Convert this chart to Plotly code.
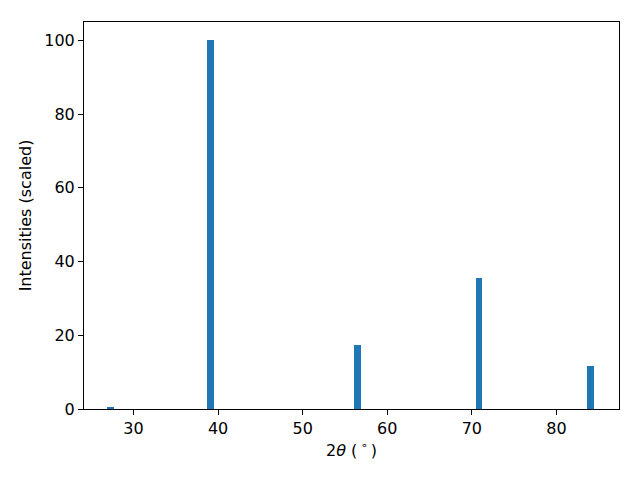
import plotly.graph_objects as go

two_theta = [27.3, 39.07, 56.5, 70.86, 84.04]
intensities = [0.3, 100.0, 17.3, 35.5, 11.65]
bar_width = 0.8
x_ticks = [30, 40, 50, 60, 70, 80]
y_ticks = [0, 20, 40, 60, 80, 100]

fig = go.Figure()
fig.add_trace(go.Bar(
    x=two_theta, y=intensities, width=bar_width,
    marker=dict(color="#1f77b4", line=dict(width=0)),
))

font = dict(family="DejaVu Sans", size=16, color="black")
axis_common = dict(
    showline=True, linecolor="black", linewidth=1, mirror=True,
    ticks="outside", ticklen=5, tickwidth=1, tickcolor="black",
    showgrid=False, zeroline=False, tickfont=font,
)
fig.update_layout(
    width=640, height=480,
    margin=dict(l=84, r=21, t=22, b=71),
    paper_bgcolor="white", plot_bgcolor="white",
    showlegend=False, bargap=0,
    font=font,
    xaxis=dict(range=[24.15, 87.4], tickvals=x_ticks,
               title=dict(text="2<i>θ</i> (\u2009<sup>∘</sup>\u2009)", font=font, standoff=7),
               **axis_common),
    yaxis=dict(range=[0, 105], tickvals=y_ticks,
               title=dict(text="Intensities (scaled)", font=font, standoff=8),
               **axis_common),
)
fig.write_html("out.html", config={"displayModeBar": False},
               post_script="document.body.style.margin='0px';")
